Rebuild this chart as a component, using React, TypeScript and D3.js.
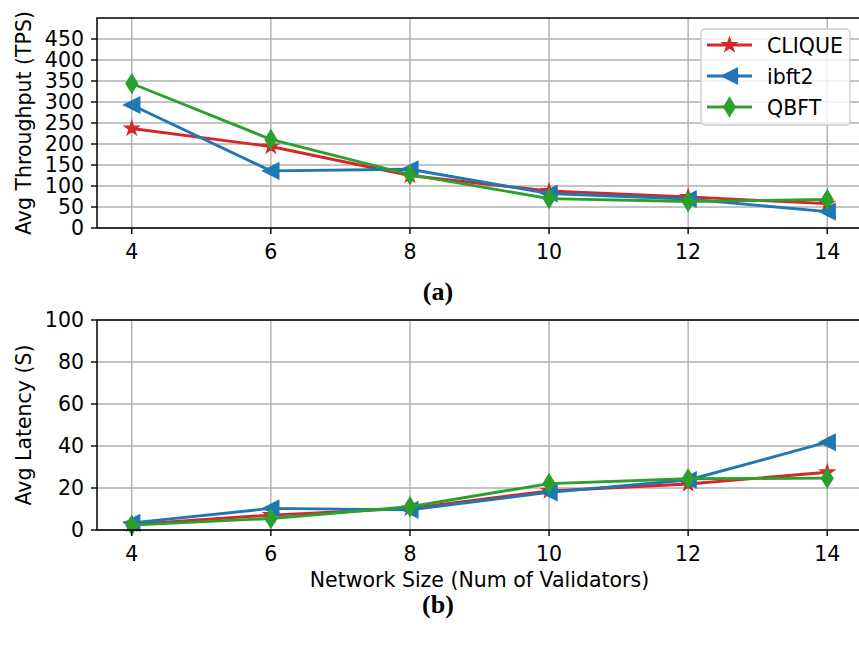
import React from 'react';
import * as d3 from 'd3';

const sizes = [4, 6, 8, 10, 12, 14];
const seriesNames = ['CLIQUE', 'ibft2', 'QBFT'];
const colors = ['#d62728', '#1f77b4', '#2ca02c'];

// throughput (TPS)
const cliqueTps = [237, 194, 125, 88, 74, 58];
const ibft2Tps = [293, 136, 140, 82, 69, 39];
const qbftTps = [344, 211, 127, 70, 63, 68];

// latency (s)
const cliqueLat = [2.7, 7.1, 10.3, 18.6, 21.9, 27.5];
const ibft2Lat = [3.4, 10.3, 9.6, 17.9, 23.8, 41.8];
const qbftLat = [2.3, 5.5, 11.1, 22.1, 24.4, 24.7];

const tpsTicks = [0, 50, 100, 150, 200, 250, 300, 350, 400, 450];
const latTicks = [0, 20, 40, 60, 80, 100];

const W = 859;
const H = 646;
const font = 'DejaVu Sans, sans-serif';
const serif = 'Liberation Serif, DejaVu Serif, serif';

function starPath(r: number) {
  const pts: string[] = [];
  const ri = r * 0.382;
  for (let i = 0; i < 10; i++) {
    const a = (Math.PI / 5) * i - Math.PI / 2;
    const rr = i % 2 === 0 ? r : ri;
    pts.push(`${(Math.cos(a) * rr).toFixed(2)},${(Math.sin(a) * rr).toFixed(2)}`);
  }
  return 'M' + pts.join('L') + 'Z';
}

const markerPaths = [
  starPath(7.5),
  'M-8,0L8,-8L8,8Z',
  'M0,-9.5L5.8,0L0,9.5L-5.8,0Z',
];

function Marker({ i, x, y }: { i: number; x: number; y: number }) {
  return (
    <path
      d={markerPaths[i]}
      transform={`translate(${x},${y})`}
      fill={colors[i]}
      stroke={colors[i]}
      strokeWidth={1.3}
    />
  );
}

function Panel({
  top,
  bottom,
  ymax,
  ticks,
  data,
  ylabel,
  showXLabel,
  legend,
}: {
  top: number;
  bottom: number;
  ymax: number;
  ticks: number[];
  data: number[][];
  ylabel: string;
  showXLabel?: boolean;
  legend?: boolean;
}) {
  const x = d3.scaleLinear().domain([3.5, 14.5]).range([97, 862]);
  const y = d3.scaleLinear().domain([0, ymax]).range([bottom, top]);
  const line = d3
    .line<number>()
    .x((_, i) => x(sizes[i]))
    .y((d) => y(d));

  return (
    <g>
      {/* grid */}
      {sizes.map((s) => (
        <line key={'gx' + s} x1={x(s)} x2={x(s)} y1={top} y2={bottom} stroke="#b0b0b0" strokeWidth={1.4} />
      ))}
      {ticks.map((t) => (
        <line key={'gy' + t} x1={97} x2={862} y1={y(t)} y2={y(t)} stroke="#b0b0b0" strokeWidth={1.4} />
      ))}

      {/* series */}
      {data.map((vals, i) => (
        <g key={seriesNames[i]}>
          <path d={line(vals) || ''} fill="none" stroke={colors[i]} strokeWidth={2.9} />
          {vals.map((v, j) => (
            <Marker key={j} i={i} x={x(sizes[j])} y={y(v)} />
          ))}
        </g>
      ))}

      {/* spines */}
      <rect x={97} y={top} width={765} height={bottom - top} fill="none" stroke="#000" strokeWidth={1.5} />

      {/* x ticks */}
      {sizes.map((s) => (
        <g key={'tx' + s}>
          <line x1={x(s)} x2={x(s)} y1={bottom} y2={bottom + 6} stroke="#000" strokeWidth={1.4} />
          <text x={x(s)} y={bottom + 31} textAnchor="middle" fontSize={20.5} fontFamily={font} fill="#000">
            {s}
          </text>
        </g>
      ))}

      {/* y ticks */}
      {ticks.map((t) => (
        <g key={'ty' + t}>
          <line x1={91} x2={97} y1={y(t)} y2={y(t)} stroke="#000" strokeWidth={1.4} />
          <text x={84} y={y(t) + 7} textAnchor="end" fontSize={20.5} fontFamily={font} fill="#000">
            {t}
          </text>
        </g>
      ))}

      <text
        transform={`translate(31,${(top + bottom) / 2}) rotate(-90)`}
        textAnchor="middle"
        fontSize={20.5}
        fontFamily={font}
        fill="#000"
      >
        {ylabel}
      </text>

      {showXLabel && (
        <text x={479.5} y={bottom + 57} textAnchor="middle" fontSize={20.5} fontFamily={font} fill="#000">
          Network Size (Num of Validators)
        </text>
      )}

      {legend && (
        <g>
          <rect x={701} y={29} width={149} height={96} rx={4} fill="#fff" fillOpacity={0.8} stroke="#cccccc" strokeWidth={1.3} />
          {seriesNames.map((n, i) => {
            const cy = 45 + i * 31;
            return (
              <g key={n}>
                <line x1={707} x2={752} y1={cy} y2={cy} stroke={colors[i]} strokeWidth={2.9} />
                <Marker i={i} x={729.5} y={cy} />
                <text x={767} y={cy + 7.5} fontSize={20.5} fontFamily={font} fill="#000">
                  {n}
                </text>
              </g>
            );
          })}
        </g>
      )}
    </g>
  );
}

export default function App() {
  return (
    <svg
      width={W}
      height={H}
      viewBox={`0 0 ${W} ${H}`}
      style={{ position: 'absolute', left: 0, top: 0, background: '#fff' }}
    >
      <rect width={W} height={H} fill="#fff" />
      <Panel
        top={18}
        bottom={228}
        ymax={500}
        ticks={tpsTicks}
        data={[cliqueTps, ibft2Tps, qbftTps]}
        ylabel="Avg Throughput (TPS)"
        legend
      />
      <text x={438} y={300} textAnchor="middle" fontSize={26} fontFamily={serif} fontWeight="bold" fill="#000">
        (a)
      </text>
      <Panel
        top={320}
        bottom={530}
        ymax={100}
        ticks={latTicks}
        data={[cliqueLat, ibft2Lat, qbftLat]}
        ylabel="Avg Latency (S)"
        showXLabel
      />
      <text x={438} y={613} textAnchor="middle" fontSize={26} fontFamily={serif} fontWeight="bold" fill="#000">
        (b)
      </text>
    </svg>
  );
}
